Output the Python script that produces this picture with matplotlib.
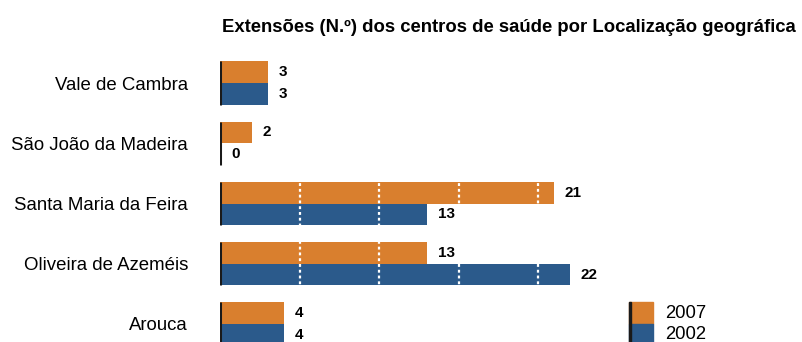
import matplotlib
matplotlib.use("Agg")
import matplotlib.pyplot as plt
from matplotlib.patches import Rectangle
import numpy as np

plt.rcParams['font.family'] = ['Liberation Sans', 'DejaVu Sans']

# Extensões dos centros de saúde por concelho
concelhos = ['Vale de Cambra', 'São João da Madeira', 'Santa Maria da Feira',
             'Oliveira de Azeméis', 'Arouca']
ext_2007 = [3, 2, 21, 13, 4]
ext_2002 = [3, 0, 13, 22, 4]
anos = ['2007', '2002']

cor_2007 = '#D97F2E'
cor_2002 = '#2B5A8B'

fig = plt.figure(figsize=(8.02, 3.42), dpi=100)
ax = fig.add_axes([220 / 802, 0, 582 / 802, 1])

y = np.arange(len(concelhos))
h = 0.357

ax.barh(y - h / 2, ext_2007, height=h, color=cor_2007, zorder=2)
ax.barh(y + h / 2, ext_2002, height=h, color=cor_2002, zorder=2)

# linha do eixo, só junto a cada grupo de barras
ax.vlines(np.zeros(len(y)), y - h, y + h, color='#1a1a1a', lw=2.2, zorder=4)

# grelha branca pontilhada por cima das barras
for gx in [5, 10, 15, 20]:
    ax.axvline(gx, color='white', lw=1.6, ls=(0, (1.3, 1.3)), zorder=3)

for yi, v in zip(y - h / 2, ext_2007):
    ax.annotate(str(v), (v, yi), xytext=(11, 0), textcoords='offset pixels',
                ha='left', va='center', fontsize=11, fontweight='bold')
for yi, v in zip(y + h / 2, ext_2002):
    ax.annotate(str(v), (v, yi), xytext=(11, 0), textcoords='offset pixels',
                ha='left', va='center', fontsize=11, fontweight='bold')

ax.set_xlim(0, 582 / 15.9)
ax.set_ylim((342 - 83) / 60.25, -83 / 60.25)
ax.set_yticks(y)
ax.set_yticklabels(concelhos, fontsize=13.4)
ax.tick_params(axis='y', length=0, pad=23)
ax.set_xticks([])
for s in ax.spines.values():
    s.set_visible(False)

# legenda
trans = matplotlib.transforms.blended_transform_factory(ax.transAxes, ax.transData)
ly = y[-1]
for i, (lab, c) in enumerate(zip(anos, [cor_2007, cor_2002])):
    y0 = ly - h + i * h
    ax.add_patch(Rectangle((0.703, y0), 0.041, h, transform=trans,
                           color=c, zorder=2, clip_on=False))
    ax.text(0.765, y0 + h / 2, lab, transform=trans, ha='left', va='center',
            fontsize=13.3)
ax.add_patch(Rectangle((0.703, ly - h), 0.0035, 2 * h, transform=trans,
                       color='#1a1a1a', zorder=4, clip_on=False))

fig.text(509 / 802, 1 - 27 / 342, 'Extensões (N.º) dos centros de saúde por Localização geográfica',
         ha='center', va='center', fontsize=13.3, fontweight='bold')

fig.savefig('out.png', dpi=100)
